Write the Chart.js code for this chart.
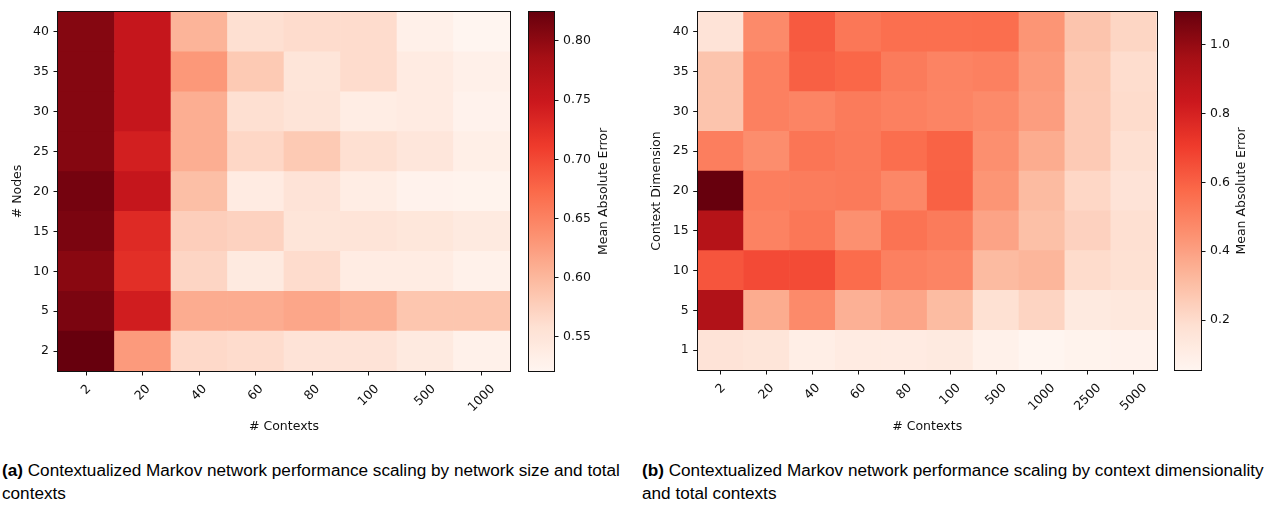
<!DOCTYPE html>
<html><head><meta charset="utf-8">
<script src="https://cdn.jsdelivr.net/npm/chart.js@4.4.1/dist/chart.umd.min.js"></script>
<style>
html,body{margin:0;padding:0;background:#fff;width:1268px;height:505px;overflow:hidden;position:relative;}
canvas{position:absolute;top:0;}
.cap{position:absolute;top:459px;font-family:"Liberation Sans",Arial,sans-serif;font-size:15.6px;line-height:23.3px;color:#000;white-space:nowrap;transform:scaleX(1.1);transform-origin:0 0;}
</style></head><body>
<canvas id="hA" width="520" height="440" style="left:0px"></canvas>
<canvas id="cA" width="110" height="440" style="left:520px"></canvas>
<canvas id="hB" width="525" height="440" style="left:640px"></canvas>
<canvas id="cB" width="103" height="440" style="left:1165px"></canvas>
<div class="cap" style="left:2px"><b>(a)</b> Contextualized Markov network performance scaling by network size and total<br>contexts</div>
<div class="cap" style="left:642px"><b>(b)</b> Contextualized Markov network performance scaling by context dimensionality<br>and total contexts</div>
<script>
// ---------- Panel (a): rows = # Nodes (bottom to top), columns = # Contexts ----------
const contextsA = ['2','20','40','60','80','100','500','1000'];
const nodesA = ['2','5','10','15','20','25','30','35','40'];
const maeA_n2  = [0.8245, 0.627, 0.566, 0.563, 0.553, 0.553, 0.541, 0.528];
const maeA_n5  = [0.812, 0.743, 0.611, 0.611, 0.616, 0.608, 0.586, 0.586];
const maeA_n10 = [0.804, 0.724, 0.570, 0.541, 0.563, 0.537, 0.537, 0.528];
const maeA_n15 = [0.812, 0.729, 0.577, 0.573, 0.550, 0.551, 0.547, 0.541];
const maeA_n20 = [0.816, 0.755, 0.593, 0.539, 0.553, 0.536, 0.526, 0.525];
const maeA_n25 = [0.806, 0.741, 0.609, 0.568, 0.582, 0.559, 0.548, 0.532];
const maeA_n30 = [0.806, 0.755, 0.609, 0.559, 0.551, 0.536, 0.539, 0.526];
const maeA_n35 = [0.806, 0.755, 0.629, 0.582, 0.550, 0.563, 0.539, 0.530];
const maeA_n40 = [0.806, 0.755, 0.603, 0.559, 0.563, 0.563, 0.530, 0.521];
const rowsA = [maeA_n2, maeA_n5, maeA_n10, maeA_n15, maeA_n20, maeA_n25, maeA_n30, maeA_n35, maeA_n40];
const cbTicksA = [0.55, 0.60, 0.65, 0.70, 0.75, 0.80];

// ---------- Panel (b): rows = Context Dimension (bottom to top), columns = # Contexts ----------
const contextsB = ['2','20','40','60','80','100','500','1000','2500','5000'];
const dimsB = ['1','5','10','15','20','25','30','35','40'];
const maeB_d1  = [0.164, 0.154, 0.099, 0.117, 0.117, 0.124, 0.080, 0.055, 0.068, 0.074];
const maeB_d5  = [0.924, 0.364, 0.471, 0.349, 0.385, 0.312, 0.180, 0.227, 0.124, 0.136];
const maeB_d10 = [0.633, 0.663, 0.660, 0.569, 0.505, 0.492, 0.315, 0.331, 0.200, 0.180];
const maeB_d15 = [0.910, 0.497, 0.532, 0.452, 0.546, 0.520, 0.391, 0.298, 0.236, 0.185];
const maeB_d20 = [1.095, 0.510, 0.515, 0.522, 0.482, 0.600, 0.436, 0.315, 0.216, 0.164];
const maeB_d25 = [0.510, 0.461, 0.539, 0.522, 0.562, 0.595, 0.455, 0.364, 0.263, 0.185];
const maeB_d30 = [0.284, 0.505, 0.492, 0.520, 0.503, 0.490, 0.471, 0.410, 0.263, 0.200];
const maeB_d35 = [0.284, 0.503, 0.603, 0.583, 0.520, 0.494, 0.505, 0.419, 0.266, 0.195];
const maeB_d40 = [0.164, 0.471, 0.620, 0.532, 0.558, 0.558, 0.562, 0.436, 0.284, 0.221];
const rowsB = [maeB_d1, maeB_d5, maeB_d10, maeB_d15, maeB_d20, maeB_d25, maeB_d30, maeB_d35, maeB_d40];
const cbTicksB = [0.2, 0.4, 0.6, 0.8, 1.0];

// ---------- Reds colormap ----------
const REDS = [[255,245,240],[254,224,210],[252,187,161],[252,146,114],[251,106,74],[239,59,44],[203,24,29],[165,15,21],[103,0,13]];
function reds(t){
  t = Math.max(0, Math.min(1, t));
  const x = t * 8, i = Math.min(7, Math.floor(x)), f = x - i;
  const a = REDS[i], b = REDS[i+1];
  return 'rgb(' + a.map((v,k)=>Math.round(v + (b[k]-v)*f)).join(',') + ')';
}

const FONT = {family: '"DejaVu Sans", sans-serif', size: 12.5};
const TXT = '#111';

const framePlugin = {
  id: 'frame',
  afterDatasetsDraw(chart){
    const {ctx, chartArea: a} = chart;
    ctx.save();
    ctx.strokeStyle = '#111'; ctx.lineWidth = 1;
    ctx.strokeRect(Math.round(a.left) - 0.5, Math.round(a.top) - 0.5, Math.round(a.right) - Math.round(a.left) + 1, Math.round(a.bottom) - Math.round(a.top) + 1);
    ctx.restore();
  }
};

// rotated x tick labels centred under each tick (matplotlib style)
const xLabelPlugin = {
  id: 'xlabels',
  afterDraw(chart){
    const s = chart.scales.x, ctx = chart.ctx;
    ctx.save();
    ctx.font = FONT.size + 'px ' + FONT.family;
    ctx.fillStyle = TXT; ctx.textAlign = 'center'; ctx.textBaseline = 'middle';
    const h = FONT.size * 1.164;
    s.ticks.forEach((t, i) => {
      const lbl = chart.data.labels[i];
      const x = s.getPixelForTick(i);
      const w = ctx.measureText(lbl).width;
      const half = (w + h) * Math.SQRT1_2 / 2;
      const y = chart.chartArea.bottom + 11 + half;
      ctx.save(); ctx.translate(x, y); ctx.rotate(-Math.PI/4); ctx.fillText(lbl, 0, 0); ctx.restore();
    });
    ctx.restore();
  }
};

function heatmap(id, cols, rowLabels, rows, yTitle, o){
  const all = rows.flat(), vmin = Math.min(...all), vmax = Math.max(...all);
  const datasets = rows.map((vals, r) => ({
    data: vals.map(() => [r, r + 1]),
    backgroundColor: vals.map(v => reds((v - vmin) / (vmax - vmin))),
    borderWidth: 0, barPercentage: 1, categoryPercentage: 1, grouped: false
  }));
  const grid = {drawOnChartArea: false, tickLength: 4.5, color: '#111', lineWidth: 1};
  new Chart(document.getElementById(id), {
    type: 'bar',
    data: {labels: cols, datasets},
    options: {
      responsive: false, animation: false, events: [],
      layout: {padding: o.padding},
      plugins: {legend: {display: false}, tooltip: {enabled: false}},
      scales: {
        x: {
          grid: Object.assign({offset: false}, grid), border: {display: false},
          ticks: {display: false},
          title: {display: true, text: '# Contexts', font: FONT, color: TXT, padding: 5.8},
          afterFit: s => { s.height = o.xh; }
        },
        y: {
          type: 'linear', min: 0, max: rows.length,
          grid: grid, border: {display: false},
          afterBuildTicks: s => { s.ticks = rowLabels.map((_, i) => ({value: i + 0.5})); },
          ticks: {font: FONT, color: TXT, padding: 4.5, callback: (v, i) => rowLabels[i]},
          title: {display: true, text: yTitle, font: FONT, color: TXT, padding: o.ytp},
          afterFit: s => { s.width = o.yw; }
        }
      }
    },
    plugins: [framePlugin, xLabelPlugin]
  });
}

function colorbar(id, rows, ticks, dec, o){
  const all = rows.flat(), vmin = Math.min(...all), vmax = Math.max(...all);
  const titlePlugin = {
    id: 'cbtitle',
    afterDraw(chart){
      const {ctx, chartArea: a} = chart;
      ctx.save();
      ctx.font = FONT.size + 'px ' + FONT.family;
      ctx.fillStyle = TXT; ctx.textAlign = 'center'; ctx.textBaseline = 'middle';
      ctx.translate(o.titleX, (a.top + a.bottom) / 2); ctx.rotate(-Math.PI/2);
      ctx.fillText('Mean Absolute Error', 0, 0);
      ctx.restore();
    }
  };
  new Chart(document.getElementById(id), {
    type: 'bar',
    data: {labels: [''], datasets: [{
      data: [[vmin, vmax]],
      backgroundColor: c => {
        const a = c.chart.chartArea; if (!a) return '#fff';
        const g = c.chart.ctx.createLinearGradient(0, a.bottom, 0, a.top);
        for (let k = 0; k <= 64; k++) g.addColorStop(k/64, reds(k/64));
        return g;
      },
      borderWidth: 0, barPercentage: 1, categoryPercentage: 1
    }]},
    options: {
      responsive: false, animation: false, events: [],
      layout: {padding: o.padding},
      plugins: {legend: {display: false}, tooltip: {enabled: false}},
      scales: {
        x: {display: false},
        y: {
          type: 'linear', position: 'right', min: vmin, max: vmax,
          grid: {drawOnChartArea: false, tickLength: 4.5, color: '#111', lineWidth: 1}, border: {display: false},
          afterBuildTicks: s => { s.ticks = ticks.map(v => ({value: v})); },
          ticks: {font: FONT, color: TXT, padding: 4.5, callback: v => Number(v).toFixed(dec)},
          afterFit: s => { s.width = o.yw; }
        }
      }
    },
    plugins: [framePlugin, titlePlugin]
  });
}

heatmap('hA', contextsA, nodesA, rowsA, '# Nodes', {padding: {top: 11, right: 10, left: 0, bottom: 0}, xh: 69, yw: 58, ytp: 10.2});
colorbar('cA', rowsA, cbTicksA, 2, {padding: {top: 11, left: 9, right: 0, bottom: 69}, yw: 76, titleX: 84});
heatmap('hB', contextsB, dimsB, rowsB, 'Context Dimension', {padding: {top: 4, right: 8.3, left: 0, bottom: 0}, xh: 70, yw: 57.7, ytp: 9.2});
colorbar('cB', rowsB, cbTicksB, 1, {padding: {top: 4, left: 10, right: 0, bottom: 70}, yw: 67, titleX: 77});
</script>
</body></html>
